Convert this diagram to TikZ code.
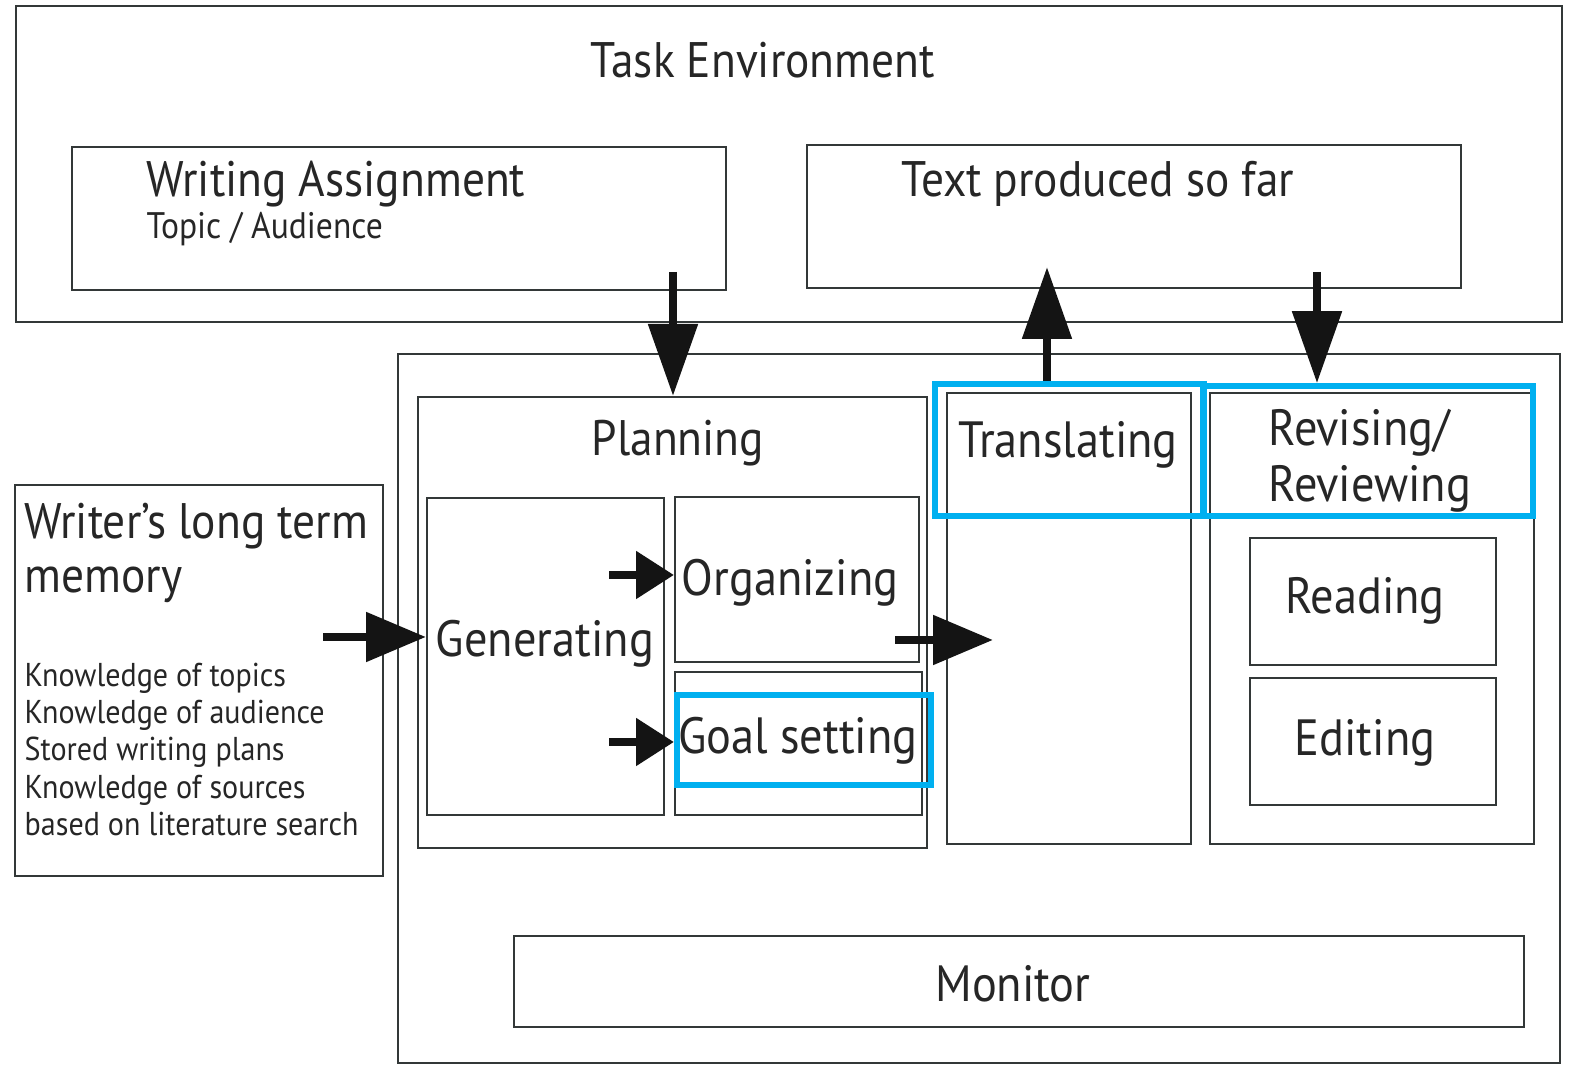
\documentclass[tikz,border=0pt]{standalone}
\usepackage{fontspec}
\setmainfont[FakeStretch=0.91]{PT Sans}
\usetikzlibrary{arrows.meta,calc,positioning}
\definecolor{boxline}{rgb}{0.20,0.22,0.22}
\definecolor{arrowblack}{rgb}{0.08,0.08,0.08}
\definecolor{markblue}{rgb}{0.00,0.69,0.94}
\tikzset{
  box/.style={draw=boxline, line width=0.02cm, inner sep=0pt},
  markbox/.style={draw=markblue, line width=0.055cm, inner sep=0pt},
  lbl/.style={inner sep=0pt, text=black!85},
  biglbl/.style={lbl, font=\fontsize{14.2}{16}\selectfont},
  midlbl/.style={lbl, font=\fontsize{14.5}{17}\selectfont},
  smalllbl/.style={lbl, font=\fontsize{10.5}{12}\selectfont},
  listlbl/.style={lbl, font=\fontsize{9.4}{10.65}\selectfont, align=left},
  bigarrow/.style={draw=arrowblack, line width=0.085cm,
    -{Triangle[length=0.72cm,width=0.48cm]}},
  midarrow/.style={draw=arrowblack, line width=0.085cm,
    -{Triangle[length=0.6cm,width=0.48cm]}},
  smallarrow/.style={draw=arrowblack, line width=0.085cm,
    -{Triangle[length=0.38cm,width=0.46cm]}},
}
\begin{document}
\begin{tikzpicture}
    \useasboundingbox (0,0) rectangle (15.72,10.65);

    % Drawing box Task Environment
    \node (task) [box, minimum width=15.46cm, minimum height=3.16cm] at (7.89,9.01) {};
    \node (tasklbl) [biglbl] at (7.63,10.05) {Task Environment};

    % Drawing box Writing Assignment
    \node (assign) [box, minimum width=6.54cm, minimum height=1.43cm] at (3.99,8.465) {};
    \node (assignlbl) [biglbl, anchor=west] at (1.46,8.81) {Writing Assignment};
    \node (topiclbl) [smalllbl, anchor=west] at (1.46,8.36) {Topic / Audience};

    % Drawing box Text produced so far
    \node (textsofar) [box, minimum width=6.54cm, minimum height=1.43cm] at (11.34,8.485) {};
    \node (textlbl) [biglbl] at (10.98,8.81) {Text produced so far};

    % Drawing box of the writing processes
    \node (process) [box, minimum width=11.62cm, minimum height=7.09cm] at (9.79,3.565) {};

    % Drawing box Planning
    \node (plan) [box, minimum width=5.09cm, minimum height=4.51cm] at (6.725,4.425) {};
    \node (planlbl) [biglbl] at (6.78,6.22) {Planning};
    \node (gen) [box, minimum width=2.37cm, minimum height=3.17cm] at (5.455,4.085) {};
    \node (genlbl) [midlbl] at (5.45,4.21) {Generating};
    \node (org) [box, minimum width=2.44cm, minimum height=1.65cm] at (7.97,4.855) {};
    \node (orglbl) [midlbl] at (7.90,4.82) {Organizing};
    \node (goal) [box, minimum width=2.47cm, minimum height=1.43cm] at (7.985,3.215) {};
    \node (goallbl) [midlbl] at (7.98,3.24) {Goal setting};

    % Drawing box Translating
    \node (trans) [box, minimum width=2.44cm, minimum height=4.51cm] at (10.69,4.465) {};
    \node (translbl) [midlbl] at (10.68,6.20) {Translating};

    % Drawing box Revising / Reviewing
    \node (rev) [box, minimum width=3.24cm, minimum height=4.51cm] at (13.72,4.465) {};
    \node (revlbl) [midlbl, anchor=west, align=left] at (12.68,6.04) {Revising/\\[-1pt]Reviewing};
    \node (read) [box, minimum width=2.46cm, minimum height=1.27cm] at (13.73,4.635) {};
    \node (readlbl) [midlbl] at (13.65,4.64) {Reading};
    \node (edit) [box, minimum width=2.46cm, minimum height=1.27cm] at (13.73,3.235) {};
    \node (editlbl) [midlbl] at (13.65,3.22) {Editing};

    % Drawing box Monitor
    \node (monitor) [box, minimum width=10.10cm, minimum height=0.91cm] at (10.19,0.835) {};
    \node (monitorlbl) [midlbl] at (10.13,0.81) {Monitor};

    % Drawing box Writer's long term memory
    \node (memory) [box, minimum width=3.68cm, minimum height=3.91cm] at (1.99,3.845) {};
    \node (memlbl) [biglbl, anchor=west, align=left] at (0.24,5.12) {Writer's long term\\[-0.5pt]memory};
    \node (memlist) [listlbl, anchor=north west] at (0.24,4.03) {Knowledge of topics\\Knowledge of audience\\Stored writing plans\\Knowledge of sources\\based on literature search};

    % Marking boxes in blue
    \node (transmark) [markbox, minimum width=2.69cm, minimum height=1.32cm] at (10.695,6.15) {};
    \node (revmark) [markbox, minimum width=3.30cm, minimum height=1.30cm] at (13.68,6.14) {};
    \node (goalmark) [markbox, minimum width=2.54cm, minimum height=0.90cm] at (8.04,3.25) {};

    % Drawing arrows
    \coordinate (assignout) at (6.73,7.93);
    \coordinate (transout) at (10.47,7.98);
    \coordinate (textout) at (13.17,7.93);
    \coordinate (memout) at (3.23,4.28);
    \coordinate (orgin) at (6.09,4.90);
    \coordinate (goalin) at (6.09,3.23);
    \coordinate (orgout) at (8.95,4.25);
    \coordinate (transin) at (9.93,4.25);

    \draw [bigarrow] (assignout) -- (assignout |- plan.north);
    \draw [bigarrow] (transmark.north -| transout) -- (transout);
    \draw [bigarrow] (textout) -- (textout |- revmark.north);
    \draw [midarrow] (memout) -- (memout -| gen.west);
    \draw [smallarrow] (orgin) -- (orgin -| org.west);
    \draw [smallarrow] (goalin) -- (goalin -| goal.west);
    \draw [midarrow] (orgout) -- (transin);
\end{tikzpicture}
\end{document}
